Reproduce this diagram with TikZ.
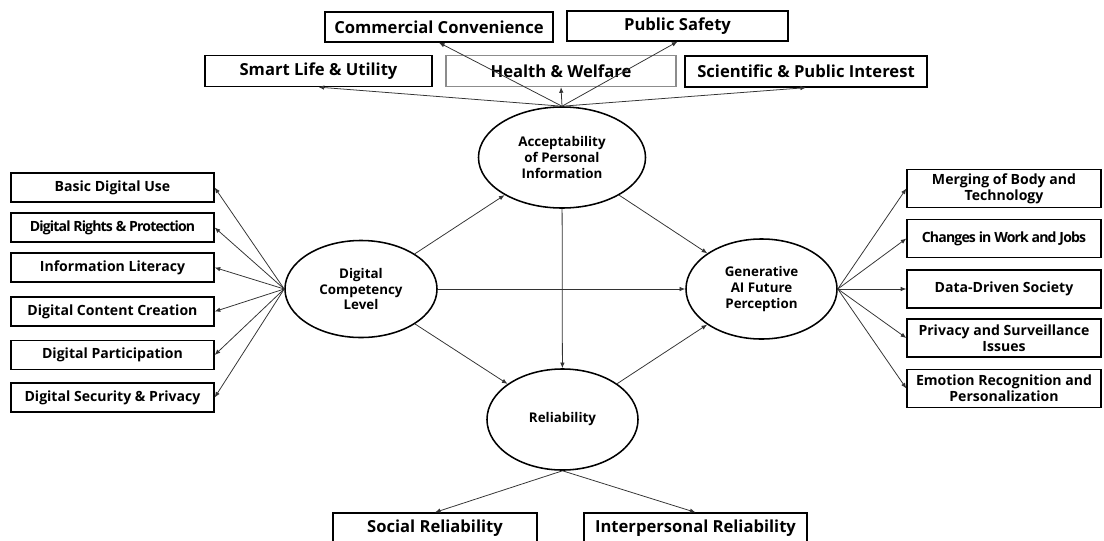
\documentclass[tikz,border=0pt]{standalone}
\usepackage{fontspec}
\setmainfont{Open Sans}
\usetikzlibrary{shapes.geometric,arrows.meta}
\newcommand{\tightish}{\addfontfeature{LetterSpace=-6}}
\tikzset{
  factor/.style={ellipse, draw, line width=1.1pt, inner sep=0pt, align=center,
    font=\bfseries\fontsize{9.5}{11.3}\selectfont},
  item/.style={rectangle, draw, line width=0.9pt, inner sep=0pt, align=center,
    font=\bfseries\fontsize{10}{11.4}\selectfont},
  topitem/.style={item, font=\bfseries\fontsize{11.8}{13}\selectfont},
  link/.style={-{Latex[length=4pt,width=3.2pt]}, line width=0.55pt, draw=black!80},
}
\begin{document}
\begin{tikzpicture}[x=0.025cm, y=-0.025cm]
  \useasboundingbox (0,0) rectangle (1104,540);
  % latent factors
  \node[factor, minimum width=4.175cm, minimum height=2.525cm] (acc) at (562,157.5) {Acceptability\\of Personal\\Information};
  \node[factor, minimum width=3.8cm, minimum height=2.425cm] (dc) at (361,289) {Digital\\Competency\\Level};
  \node[factor, minimum width=3.775cm, minimum height=2.5cm] (gen) at (761.5,289) {Generative\\AI Future\\Perception};
  \node[factor, minimum width=3.775cm, minimum height=2.525cm] (rel) at (562.5,419.5) {Reliability};

  % top indicators
  \node[topitem, minimum width=5.7cm, minimum height=0.75cm] (comm) at (439,27) {Commercial Convenience};
  \node[topitem, minimum width=5.525cm, minimum height=0.75cm] (safety) at (677.5,26) {Public Safety};
  \node[topitem, minimum width=5.675cm, minimum height=0.775cm] (smart) at (318.5,71) {Smart Life \& Utility};
  \node[topitem, draw=black!45, minimum width=5.75cm, minimum height=0.775cm] (health) at (561,71) {Health \& Welfare};
  \node[topitem, minimum width=6.05cm, minimum height=0.775cm] (sci) at (806,71.5) {Scientific \& Public Interest};

  % left indicators
  \foreach \name/\y/\txt in {basic/187.5/Basic Digital Use, rights/227.5/{\tightish Digital Rights \& Protection},
      info/267.5/Information Literacy, content/311.5/Digital Content Creation,
      part/355/Digital Participation, security/397.5/Digital Security \& Privacy}{
    \node[item, minimum width=5.075cm, minimum height=0.725cm] (\name) at (112.5,\y) {\txt};
  }

  % right indicators
  \foreach \name/\y/\txt in {merge/188.5/Merging of Body and\\Technology, jobs/238.5/{\tightish Changes in Work and Jobs},
      data/289/Data-Driven Society, privacy/338/Privacy and Surveillance\\Issues,
      emotion/388.5/Emotion Recognition and\\Personalization}{
    \node[item, minimum width=4.85cm, minimum height=0.95cm] (\name) at (1004,\y) {\txt};
  }

  % bottom indicators
  \node[topitem, minimum width=5.1cm, minimum height=0.75cm] (social) at (435,528) {Social Reliability};
  \node[topitem, minimum width=5.575cm, minimum height=0.75cm] (inter) at (695.5,528) {Interpersonal Reliability};

  % structural paths
  \draw[link] (dc) -- (acc);
  \draw[link] (acc) -- (gen);
  \draw[link] (dc) -- (gen);
  \draw[link] (acc) -- (rel);
  \draw[link] (dc) -- (rel);
  \draw[link] (rel) -- (gen);

  % loadings
  \foreach \name in {comm,safety,smart,health,sci}
    \draw[link] (acc.north) -- (\name.south);
  \foreach \name in {basic,rights,info,content,part,security}
    \draw[link] (dc.west) -- (\name.east);
  \foreach \name in {merge,jobs,data,privacy,emotion}
    \draw[link] (gen.east) -- (\name.west);
  \foreach \name in {social,inter}
    \draw[link] (rel.south) -- (\name.north);
\end{tikzpicture}
\end{document}
